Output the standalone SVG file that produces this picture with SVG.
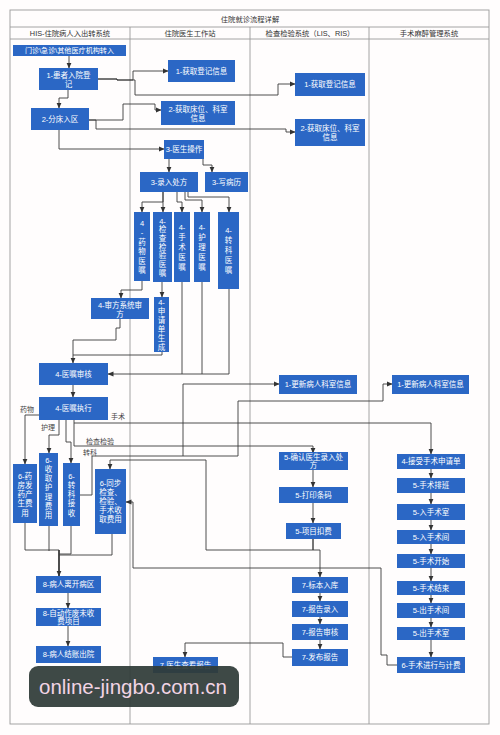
<svg xmlns="http://www.w3.org/2000/svg" width="500" height="735" viewBox="0 0 500 735">
<defs>
<marker id="ar" markerUnits="userSpaceOnUse" markerWidth="6" markerHeight="6" refX="5.5" refY="3" orient="auto"><path d="M0,0.4 L6,3 L0,5.6 z" fill="#333"/></marker>
<style>
text{font-family:"Liberation Sans","Noto Sans CJK SC",sans-serif;}
.n rect{fill:#2B67C5;}
.n text{fill:#fff;font-size:7.5px;text-anchor:middle;}
.c path{fill:none;stroke:#3a3a3a;stroke-width:0.9;}
.c .a{marker-end:url(#ar);}
.lane{fill:none;stroke:#9a9a9a;stroke-width:0.9;}
.hd{font-size:7.3px;fill:#333;text-anchor:middle;}
.lb{font-size:7px;fill:#444;}
</style>
</defs>
<rect x="0" y="0" width="500" height="735" fill="#fffdfd"/>
<g id="frame">
<rect x="10" y="10" width="479" height="714" fill="#fdf8f8" class="lane"/>
<path class="lane" d="M10,27 H489 M10,39 H489 M130,27 V724 M250,27 V724 M369,27 V724"/>
<text class="hd" x="250" y="21.5">住院就诊流程详解</text>
<text class="hd" x="70" y="35.5">HIS-住院病人入出转系统</text>
<text class="hd" x="190" y="35.5">住院医生工作站</text>
<text class="hd" x="310" y="35.5">检查检验系统（LIS、RIS）</text>
<text class="hd" x="429" y="35.5">手术麻醉管理系统</text>
</g>
<g class="c" id="connectors">
<path class="a" d="M69,56 V68"/>
<path class="a" d="M68,90 V98 H59 V108"/>
<path class="a" d="M98,79 H117 V80 H133 V71 H168"/>
<path class="a" d="M98,79 H117 V80 H135 V95 H278 V84 H295"/>
<path class="a" d="M89,120 H123 V104 H155 V110 H161"/>
<path class="a" d="M89,120 H96 V129 H286 V132 H295"/>
<path class="a" d="M59,130 V149 H164"/>
<path class="a" d="M169,159 V172"/>
<path class="a" d="M203,159 V165 H212 V172"/>
<path class="a" d="M163,192 V202 H142 V212"/>
<path class="a" d="M163,192 V212"/>
<path class="a" d="M177,192 V202 H182 V212"/>
<path class="a" d="M185,192 V200 H202 V212"/>
<path class="a" d="M188,192 V197 H229 V212"/>
<path class="a" d="M142,281 V290 H121 V298"/>
<path class="a" d="M162,282 V297"/>
<path class="a" d="M120,319 V328 H116 V340 H73 V363"/>
<path d="M162,352 V355 H73"/>
<path d="M182,282 V374 M202,282 V374"/>
<path class="a" d="M229,289 V374 H108"/>
<path class="a" d="M73,385 V397"/>
<path class="a" d="M39,415 H25 V464"/>
<path class="a" d="M59,420 V435 H49 V453"/>
<path class="a" d="M66,420 V442 H71 V463"/>
<path class="a" d="M74,420 V446 H313 V453"/>
<path class="a" d="M74,423 H431 V454"/>
<path class="a" d="M80,495 H92 V456 H183 V384 H279"/>
<path class="a" d="M183,456 H238 V401 H383 V384 H392"/>
<path class="a" d="M313,539 V550 H206 V460 H110 V469"/>
<path class="a" d="M313,539 V550 H320 V577"/>
<path class="a" d="M397,665 H387 V655 H381 V568 H133 V502 H126"/>
<path d="M25,523 V550 H59 M49,526 V551 M71,526 V554 H59 M112,534 V555 H59"/>
<path class="a" d="M59,550 V576" style="stroke-width:1.8"/>
<path class="a" d="M68,593 V608"/>
<path class="a" d="M68,626 V646"/>
<path class="a" d="M313,470 V487"/>
<path class="a" d="M313,503 V523"/>
<path class="a" d="M320,593 V601"/>
<path class="a" d="M320,617 V624"/>
<path class="a" d="M320,640 V649"/>
<path class="a" d="M292,657 H283 V643 H185 V657"/>
<path class="a" d="M431,469 V478"/>
<path class="a" d="M431,493 V504"/>
<path class="a" d="M431,520 V530"/>
<path class="a" d="M431,544 V554"/>
<path class="a" d="M431,568 V581"/>
<path class="a" d="M431,595 V603"/>
<path class="a" d="M431,618 V627"/>
<path class="a" d="M431,640 V657"/>
</g>
<g id="labels">
<text class="lb" x="20" y="412">药物</text>
<text class="lb" x="41" y="430">护理</text>
<text class="lb" x="111" y="419">手术</text>
<text class="lb" x="86" y="444">检查检验</text>
<text class="lb" x="83" y="455">转科</text>
</g>
<g class="n" id="n_transfer"><rect x="13" y="45" width="113" height="11"/><text x="69.5" y="53.3" style="font-size:7.1px">门诊\急诊\其他医疗机构转入</text></g>
<g class="n" id="n_reg"><rect x="39" y="68" width="59" height="22"/><text x="68.5" y="77.5">1-患者入院登</text><text x="68.5" y="86.5">记</text></g>
<g class="n" id="n_reg_doc"><rect x="168" y="60" width="67" height="22"/><text x="201.5" y="73.7">1-获取登记信息</text></g>
<g class="n" id="n_bed"><rect x="31" y="108" width="58" height="22"/><text x="60" y="121.7">2-分床入区</text></g>
<g class="n" id="n_bed_doc"><rect x="161" y="101" width="74" height="24"/><text x="198" y="111.5">2-获取床位、科室</text><text x="198" y="120.5">信息</text></g>
<g class="n" id="n_reg_lis"><rect x="295" y="73" width="70" height="23"/><text x="330" y="87.2">1-获取登记信息</text></g>
<g class="n" id="n_bed_lis"><rect x="295" y="119" width="70" height="27"/><text x="330" y="130.5">2-获取床位、科室</text><text x="330" y="139.5">信息</text></g>
<g class="n" id="n_op"><rect x="164" y="140" width="40" height="19"/><text x="184" y="152.2">3-医生操作</text></g>
<g class="n" id="n_rx"><rect x="140" y="172" width="58" height="20"/><text x="169" y="184.7">3-录入处方</text></g>
<g class="n" id="n_emr"><rect x="205" y="172" width="43" height="20"/><text x="226.5" y="184.7">3-写病历</text></g>
<g class="n" id="n_drug"><rect x="134" y="212" width="16" height="69"/><text x="142" y="225.5">4</text><text x="142" y="235">-</text><text x="142" y="244.5">药</text><text x="142" y="254">物</text><text x="142" y="263.5">医</text><text x="142" y="273">嘱</text></g>
<g class="n" id="n_exam"><rect x="153" y="212" width="19" height="70"/><text x="162.5" y="223.5">4-</text><text x="162.5" y="232.2">检</text><text x="162.5" y="240.9">查</text><text x="162.5" y="249.6">检</text><text x="162.5" y="258.3">验</text><text x="162.5" y="267">医</text><text x="162.5" y="275.7">嘱</text></g>
<g class="n" id="n_surg"><rect x="174" y="212" width="16" height="70"/><text x="182" y="229.7">4-</text><text x="182" y="239.7">手</text><text x="182" y="249.7">术</text><text x="182" y="259.7">医</text><text x="182" y="269.7">嘱</text></g>
<g class="n" id="n_nurse"><rect x="194" y="212" width="16" height="70"/><text x="202" y="229.7">4-</text><text x="202" y="239.7">护</text><text x="202" y="249.7">理</text><text x="202" y="259.7">医</text><text x="202" y="269.7">嘱</text></g>
<g class="n" id="n_move"><rect x="218" y="212" width="21" height="77"/><text x="228.5" y="233.2">4-</text><text x="228.5" y="243.2">转</text><text x="228.5" y="253.2">科</text><text x="228.5" y="263.2">医</text><text x="228.5" y="273.2">嘱</text></g>
<g class="n" id="n_audit_rx"><rect x="91" y="298" width="58" height="21"/><text x="120" y="307.5">4-审方系统审</text><text x="120" y="316.5">方</text></g>
<g class="n" id="n_apply"><rect x="154" y="297" width="15" height="55"/><text x="161.5" y="304.7">4-</text><text x="161.5" y="313.7">申</text><text x="161.5" y="322.7">请</text><text x="161.5" y="331.7">单</text><text x="161.5" y="340.7">生</text><text x="161.5" y="349.7">成</text></g>
<g class="n" id="n_check"><rect x="39" y="363" width="69" height="22"/><text x="73.5" y="376.7">4-医嘱审核</text></g>
<g class="n" id="n_exec"><rect x="39" y="397" width="69" height="23"/><text x="73.5" y="411.2">4-医嘱执行</text></g>
<g class="n" id="n_pharm"><rect x="13" y="464" width="24" height="59"/><text x="25" y="478.5">6-药</text><text x="25" y="487.8">房发</text><text x="25" y="497.1">药产</text><text x="25" y="506.4">生费</text><text x="25" y="515.7">用</text></g>
<g class="n" id="n_nfee"><rect x="39" y="453" width="19" height="73"/><text x="48.5" y="462.5">6-</text><text x="48.5" y="471.8">收</text><text x="48.5" y="481.1">取</text><text x="48.5" y="490.4">护</text><text x="48.5" y="499.7">理</text><text x="48.5" y="509">费</text><text x="48.5" y="518.3">用</text></g>
<g class="n" id="n_recv"><rect x="63" y="463" width="17" height="63"/><text x="71.5" y="478.5">6-</text><text x="71.5" y="487.8">转</text><text x="71.5" y="497.1">科</text><text x="71.5" y="506.4">接</text><text x="71.5" y="515.7">收</text></g>
<g class="n" id="n_sync"><rect x="95" y="469" width="31" height="65"/><text x="110.5" y="485.5">6-同步</text><text x="110.5" y="494.5">检查、</text><text x="110.5" y="503.5">检验、</text><text x="110.5" y="512.5">手术收</text><text x="110.5" y="521.5">取费用</text></g>
<g class="n" id="n_leave"><rect x="36" y="576" width="65" height="17"/><text x="68.5" y="587.2">8-病人离开病区</text></g>
<g class="n" id="n_void"><rect x="36" y="608" width="65" height="18"/><text x="68.5" y="615.5">8-自动作废未收</text><text x="68.5" y="624">费项目</text></g>
<g class="n" id="n_out"><rect x="36" y="646" width="65" height="17"/><text x="68.5" y="657.2">8-病人结账出院</text></g>
<g class="n" id="n_view"><rect x="153" y="657" width="65" height="16"/><text x="185.5" y="667.7">7-医生查看报告</text></g>
<g class="n" id="n_upd_lis"><rect x="279" y="375" width="78" height="19"/><text x="318" y="387.2">1-更新病人科室信息</text></g>
<g class="n" id="n_upd_or"><rect x="392" y="375" width="77" height="19"/><text x="430.5" y="387.2">1-更新病人科室信息</text></g>
<g class="n" id="n_confirm"><rect x="279" y="452" width="69" height="18"/><text x="313.5" y="459.5">5-确认医生录入处</text><text x="313.5" y="468">方</text></g>
<g class="n" id="n_print"><rect x="279" y="487" width="69" height="16"/><text x="313.5" y="497.7">5-打印条码</text></g>
<g class="n" id="n_charge"><rect x="286" y="523" width="55" height="16"/><text x="313.5" y="533.7">5-项目扣费</text></g>
<g class="n" id="n_sample"><rect x="292" y="577" width="56" height="16"/><text x="320" y="587.7">7-标本入库</text></g>
<g class="n" id="n_rep_in"><rect x="292" y="601" width="56" height="16"/><text x="320" y="611.7">7-报告录入</text></g>
<g class="n" id="n_rep_chk"><rect x="292" y="624" width="56" height="16"/><text x="320" y="634.7">7-报告审核</text></g>
<g class="n" id="n_rep_pub"><rect x="292" y="649" width="56" height="17"/><text x="320" y="660.2">7-发布报告</text></g>
<g class="n" id="n_accept"><rect x="397" y="454" width="68" height="15"/><text x="431" y="464.2">4-接受手术申请单</text></g>
<g class="n" id="n_sched"><rect x="397" y="478" width="68" height="15"/><text x="431" y="488.2">5-手术排班</text></g>
<g class="n" id="n_in_room"><rect x="397" y="504" width="68" height="16"/><text x="431" y="514.7">5-入手术室</text></g>
<g class="n" id="n_in_ot"><rect x="397" y="530" width="68" height="14"/><text x="431" y="539.7">5-入手术间</text></g>
<g class="n" id="n_start"><rect x="397" y="554" width="68" height="14"/><text x="431" y="563.7">5-手术开始</text></g>
<g class="n" id="n_end"><rect x="397" y="581" width="68" height="14"/><text x="431" y="590.7">5-手术结束</text></g>
<g class="n" id="n_out_ot"><rect x="397" y="603" width="68" height="15"/><text x="431" y="613.2">5-出手术间</text></g>
<g class="n" id="n_out_room"><rect x="397" y="627" width="68" height="13"/><text x="431" y="636.2">5-出手术室</text></g>
<g class="n" id="n_bill"><rect x="397" y="657" width="68" height="16"/><text x="431" y="667.7">6-手术进行与计费</text></g>
<g id="watermark"><rect x="29" y="666" width="210" height="41" rx="9" fill="#2f3b38" fill-opacity="0.93"/><text x="133" y="694" style="font-size:20.5px;fill:#f2d4e4;text-anchor:middle">online-jingbo.com.cn</text></g>
</svg>
